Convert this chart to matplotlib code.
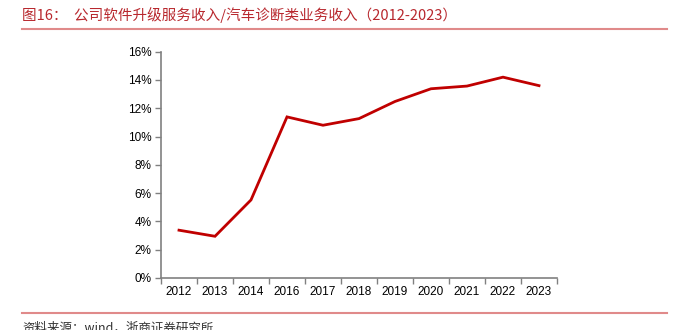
import matplotlib
matplotlib.use("Agg")
from matplotlib import pyplot as plt
from matplotlib.lines import Line2D
import numpy as np

# data
years = ["2012", "2013", "2014", "2016", "2017", "2018", "2019",
         "2020", "2021", "2022", "2023"]
ratio = [3.38, 2.95, 5.52, 11.39, 10.80, 11.27, 12.48,
         13.38, 13.57, 14.20, 13.60]
yticks = [0, 2, 4, 6, 8, 10, 12, 14, 16]

title = "图16：  公司软件升级服务收入/汽车诊断类业务收入（2012-2023）"
source = "资料来源：wind，浙商证券研究所"

plt.rcParams['font.family'] = ['Liberation Sans', 'Noto Sans CJK SC', 'DejaVu Sans']

fig = plt.figure(figsize=(6.77, 3.30), dpi=100)
ax = fig.add_axes([161 / 677, 52 / 330, 396 / 677, 226.3 / 330])

x = np.arange(len(years))
ax.plot(x, ratio, color="#c00000", linewidth=2.0, solid_joinstyle="miter")

ax.set_xlim(-0.5, len(years) - 0.5)
ax.set_ylim(0, 16)
ax.set_yticks(yticks)
ax.set_yticklabels([f"{v}%" for v in yticks])
ax.set_xticks(x)
ax.set_xticklabels(years)
ax.set_xticks(np.arange(-0.5, len(years), 1.0), minor=True)
ax.tick_params(axis="x", which="major", length=0, pad=6, labelsize=8.5)
ax.tick_params(axis="x", which="minor", length=4, color="#808080", width=1)
ax.tick_params(axis="y", length=4, color="#808080", width=1, labelsize=8.5, pad=3)

for side in ["top", "right"]:
    ax.spines[side].set_visible(False)
for side in ["left", "bottom"]:
    ax.spines[side].set_color("#808080")
    ax.spines[side].set_linewidth(1.2)

# header and footer
fig.text(22 / 677, 1 - 15 / 330, title, color="#b8282e", fontsize=10.5,
         va="center", ha="left", family=['Noto Sans CJK SC', 'DejaVu Sans'])
fig.add_artist(Line2D([22 / 677, 667 / 677], [1 - 29 / 330, 1 - 29 / 330],
                      color="#e08a8a", linewidth=1.5))
fig.add_artist(Line2D([22 / 677, 667 / 677], [1 - 313 / 330, 1 - 313 / 330],
                      color="#e08a8a", linewidth=1.5))
fig.text(22 / 677, 1 - 328 / 330, source, color="#333333", fontsize=9,
         va="center", ha="left", family=['Noto Sans CJK SC', 'DejaVu Sans'])

plt.savefig("out.png", dpi=100)
